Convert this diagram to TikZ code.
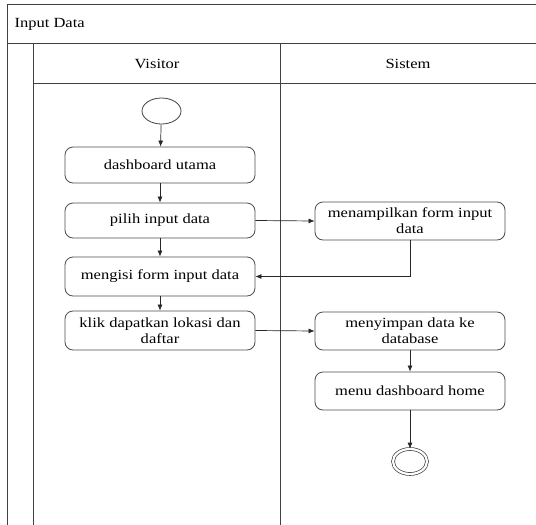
\documentclass[tikz,border=0pt]{standalone}
\usepackage{fontspec}
\setmainfont{Liberation Serif}[FakeStretch=1.18]
\usetikzlibrary{shapes.geometric,arrows.meta}

\tikzset{
    lane/.style={draw=black!75, line width=0.9pt},
    act/.style={draw=black!70, line width=0.8pt, rounded corners=8pt, minimum width=190pt,
        align=center, inner sep=1pt, font=\fontsize{14}{16}\selectfont},
    flow/.style={draw=black!85, line width=0.7pt, -{Latex[length=6pt,width=5pt]}},
}

\begin{document}
\begin{tikzpicture}[x=1pt, y=-1pt]
    \useasboundingbox (0, 0) rectangle (536, 525);

    % swimlane frame
    \begin{scope}
        \draw[lane] (536, 4) -- (7.5, 4) -- (7.5, 525);
        \draw[lane] (7.5, 43) -- (536, 43);
        \draw[lane] (33, 83) -- (536, 83);
        \foreach \x in {33, 280}
            \draw[lane] (\x, 43) -- (\x, 525);

        \node[anchor=west, font=\fontsize{14}{16}\selectfont] (title) at (11, 24.5) {Input Data};
        \node[font=\fontsize{14}{16}\selectfont] (visitor) at (157, 64) {Visitor};
        \node[font=\fontsize{14}{16}\selectfont] (sistem) at (408, 64) {Sistem};
    \end{scope}

    % Visitor lane
    \node[ellipse, draw=black!75, line width=0.8pt, minimum width=39pt, minimum height=26pt, inner sep=0pt] (start) at (161.5, 111) {};
    \node[act, minimum height=36pt] (dash) at (160, 165) {dashboard utama};
    \node[act, minimum height=35pt] (pilih) at (160, 220.5) {pilih input data};
    \node[act, minimum height=39pt] (isi) at (160, 276.5) {mengisi form input data};
    \node[act, minimum height=39pt] (klik) at (160, 330.5) {klik dapatkan lokasi dan\\daftar};

    % Sistem lane
    \node[act, minimum height=38pt] (tampil) at (410, 221) {menampilkan form input\\data};
    \node[act, minimum height=38pt] (simpan) at (410, 331) {menyimpan data ke\\database};
    \node[act, minimum height=38pt] (home) at (410, 391) {menu dashboard home};
    \node[ellipse, draw=black!75, line width=0.7pt, double, double distance=2.2pt, minimum width=34pt, minimum height=25pt, inner sep=0pt] (stop) at (410, 461.5) {};

    \draw[flow] (start) -- (dash);
    \draw[flow] (dash) -- (pilih);
    \draw[flow] (pilih) -- (isi);
    \draw[flow] (isi) -- (klik);
    \draw[flow] (pilih.east) -- (tampil.west);
    \draw[flow] (tampil.south) |- (isi.east);
    \draw[flow] (klik.east) -- (simpan.west);
    \draw[flow] (simpan) -- (home);
    \draw[flow] (home) -- (stop);
\end{tikzpicture}
\end{document}
